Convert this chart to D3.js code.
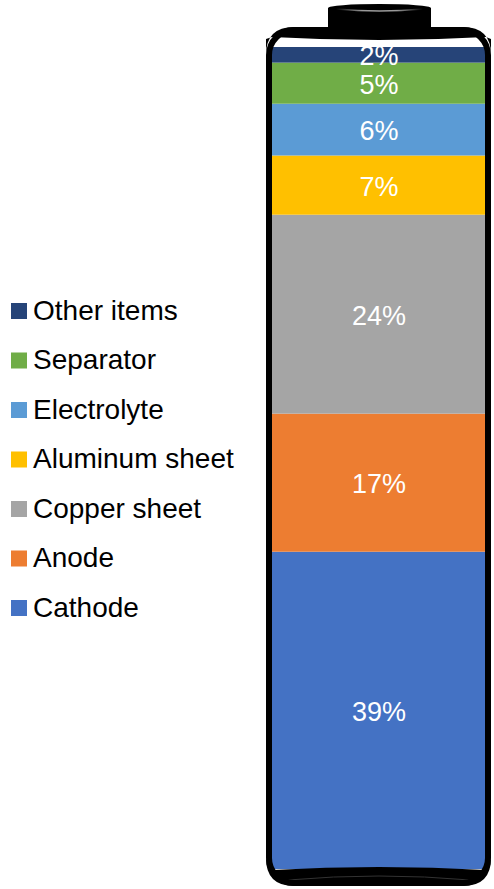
<!DOCTYPE html>
<html>
<head>
<meta charset="utf-8">
<script src="https://cdn.jsdelivr.net/npm/d3@7"></script>
<style>
  html, body { margin: 0; padding: 0; background: #fff; }
  svg { display: block; }
  text { font-family: "Liberation Sans", Arial, sans-serif; }
</style>
</head>
<body>
<svg id="chart" width="494" height="889"></svg>
<script>
// Data (bottom to top of the battery)
const categories = ["Cathode", "Anode", "Copper sheet", "Aluminum sheet", "Electrolyte", "Separator", "Other items"];
const values = [38.6, 16.8, 24.2, 7.2, 6.3, 5.0, 1.9];
const labels = ["39%", "17%", "24%", "7%", "6%", "5%", "2%"];
const colors = ["#4472C4", "#ED7D31", "#A5A5A5", "#FFC000", "#5B9BD5", "#70AD47", "#264478"];

const svg = d3.select("#chart");

const x = d3.scaleBand().domain(["battery"]).range([272, 486]).padding(0);
const y = d3.scaleLinear().domain([0, 100]).range([869, 47]);

// stack
let acc = 0;
const segs = categories.map((c, i) => {
  const s = { cat: c, v: values[i], label: labels[i], color: colors[i], y0: acc, y1: acc + values[i] };
  acc += values[i];
  return s;
});

const g = svg.append("g");
g.selectAll("rect.seg").data(segs).join("rect")
  .attr("class", "seg")
  .attr("x", x("battery"))
  .attr("width", x.bandwidth())
  .attr("y", d => y(d.y1))
  .attr("height", d => y(d.y0) - y(d.y1))
  .attr("fill", d => d.color);

g.selectAll("text.lab").data(segs).join("text")
  .attr("class", "lab")
  .attr("x", x("battery") + x.bandwidth() / 2)
  .attr("y", d => (y(d.y0) + y(d.y1)) / 2 + 1.5)
  .attr("text-anchor", "middle")
  .attr("dominant-baseline", "central")
  .attr("fill", "#fff")
  .attr("font-size", 27)
  .text(d => d.label);

// Battery shell
const defs = svg.append("defs");
const grad = defs.append("linearGradient").attr("id", "capHi").attr("x1", 0).attr("x2", 1).attr("y1", 0).attr("y2", 0);
grad.append("stop").attr("offset", "0%").attr("stop-color", "#000");
grad.append("stop").attr("offset", "30%").attr("stop-color", "#999");
grad.append("stop").attr("offset", "70%").attr("stop-color", "#999");
grad.append("stop").attr("offset", "100%").attr("stop-color", "#000");

const L = 266, R = 491, T = 27, B = 886, rr = 28;
const shell = svg.append("g");

// top black band (cylinder top)
shell.append("path")
  .attr("d", `M${L},${T + rr} Q${L},${T} ${L + rr},${T} L${R - rr},${T} Q${R},${T} ${R},${T + rr}
              L${R},${T + 12} L${486},${37} Q${379},${43} ${272},${37} L${L},${T + 12} Z`)
  .attr("fill", "#000");

// bottom black base
shell.append("path")
  .attr("d", `M${L},${B - rr} L${272},${870} Q${379},${864} ${486},${870} L${R},${B - rr}
              Q${R},${B} ${R - rr},${B} L${L + rr},${B} Q${L},${B} ${L},${B - rr} Z`)
  .attr("fill", "#000");
shell.append("path")
  .attr("d", `M288,880 Q379,872 470,880`)
  .attr("fill", "none").attr("stroke", "#333").attr("stroke-width", 1);

// outline
shell.append("rect")
  .attr("x", L + 3).attr("y", T + 3)
  .attr("width", R - L - 6).attr("height", B - T - 6)
  .attr("rx", rr - 3).attr("ry", rr - 3)
  .attr("fill", "none").attr("stroke", "#000").attr("stroke-width", 6);

// cap
shell.append("rect")
  .attr("x", 328).attr("y", 8).attr("width", 103).attr("height", 22)
  .attr("fill", "#000");
shell.append("ellipse")
  .attr("cx", 379.5).attr("cy", 8).attr("rx", 51.5).attr("ry", 4)
  .attr("fill", "#000");
shell.append("path")
  .attr("d", `M336,9 Q379.5,13 423,9`)
  .attr("fill", "none").attr("stroke", "url(#capHi)").attr("stroke-width", 1.5);

// Legend (top: Other items ... bottom: Cathode)
const legendItems = segs.slice().reverse();
const lg = svg.append("g");
const rowY = d3.scalePoint().domain(legendItems.map(d => d.cat)).range([310, 607]);
const item = lg.selectAll("g").data(legendItems).join("g")
  .attr("transform", d => `translate(0,${rowY(d.cat)})`);
item.append("rect")
  .attr("x", 11).attr("y", -7).attr("width", 16).attr("height", 16)
  .attr("fill", d => d.color);
item.append("text")
  .attr("x", 33).attr("y", 0)
  .attr("dominant-baseline", "central")
  .attr("font-size", 28)
  .attr("fill", "#000")
  .text(d => d.cat);
</script>
</body>
</html>
